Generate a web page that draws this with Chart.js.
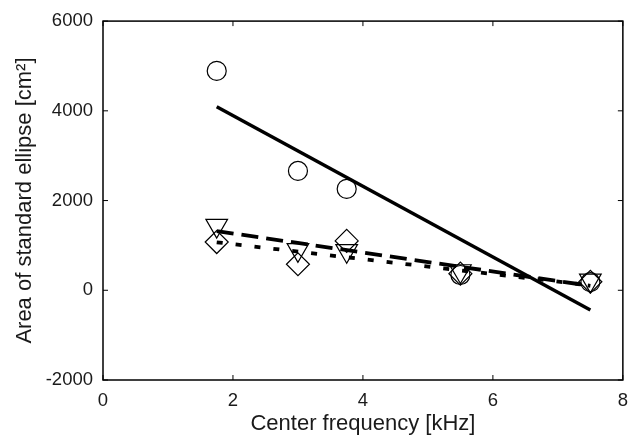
<!DOCTYPE html>
<html>
<head>
<meta charset="utf-8">
<script src="https://cdn.jsdelivr.net/npm/chart.js@4/dist/chart.umd.min.js"></script>
<style>
  html, body { margin: 0; padding: 0; background: #fff; }
  #wrap { width: 638px; height: 440px; }
</style>
</head>
<body>
<div id="wrap"><canvas id="myChart"></canvas></div>
<script>
// Center frequencies [kHz]
const freqs = [1.75, 3, 3.75, 5.5, 7.5];

// Measured areas [cm^2] for the three marker groups
const circleVals = [4890, 2660, 2260, 340, 180];
const triangleVals = [1440, 900, 880, 430, 220];
const diamondVals = [1075, 580, 1100, 370, 190];

// Regression lines (end points)
const fitX = [1.75, 7.5];
const solidFit = [4090, -440];
const dashedFit = [1320, 100];
const dottedFit = [1070, 110];

// Axis ticks
const xTicks = [0, 2, 4, 6, 8];
const yTicks = [-2000, 0, 2000, 4000, 6000];

const pts = (xs, ys) => xs.map((x, i) => ({ x: x, y: ys[i] }));

// Box frame with inward ticks on all four sides (MATLAB style)
const framePlugin = {
  id: 'frame',
  afterDatasetsDraw(chart) {
    const { ctx, chartArea: a, scales } = chart;
    ctx.save();
    ctx.strokeStyle = '#000';
    ctx.lineWidth = 1.5;
    ctx.strokeRect(a.left, a.top, a.right - a.left, a.bottom - a.top);
    ctx.lineWidth = 1;
    ctx.beginPath();
    xTicks.forEach(v => {
      const px = scales.x.getPixelForValue(v);
      ctx.moveTo(px, a.bottom); ctx.lineTo(px, a.bottom - 5);
      ctx.moveTo(px, a.top); ctx.lineTo(px, a.top + 5);
    });
    yTicks.forEach(v => {
      const py = scales.y.getPixelForValue(v);
      ctx.moveTo(a.left, py); ctx.lineTo(a.left + 5, py);
      ctx.moveTo(a.right, py); ctx.lineTo(a.right - 5, py);
    });
    ctx.stroke();
    ctx.restore();
  }
};

const ctx = document.getElementById('myChart').getContext('2d');
const font = 'Liberation Sans, Arial, sans-serif';

const myChart = new Chart(ctx, {
  type: 'scatter',
  data: {
    datasets: [
      {
        label: 'circles',
        data: pts(freqs, circleVals),
        pointStyle: 'circle',
        pointRadius: 9.5,
        borderColor: '#000',
        borderWidth: 1.2,
        backgroundColor: 'rgba(0,0,0,0)'
      },
      {
        label: 'triangles',
        data: pts(freqs, triangleVals),
        pointStyle: 'triangle',
        rotation: 180,
        pointRadius: 12.5,
        borderColor: '#000',
        borderWidth: 1.2,
        backgroundColor: 'rgba(0,0,0,0)'
      },
      {
        label: 'diamonds',
        data: pts(freqs, diamondVals),
        pointStyle: 'rectRot',
        pointRadius: 11.5,
        borderColor: '#000',
        borderWidth: 1.2,
        backgroundColor: 'rgba(0,0,0,0)'
      },
      {
        label: 'solid fit',
        data: pts(fitX, solidFit),
        showLine: true,
        pointRadius: 0,
        borderColor: '#000',
        borderWidth: 3.5
      },
      {
        label: 'dashed fit',
        data: pts(fitX, dashedFit),
        showLine: true,
        pointRadius: 0,
        borderColor: '#000',
        borderWidth: 3.8,
        borderDash: [17, 8]
      },
      {
        label: 'dotted fit',
        data: pts(fitX, dottedFit),
        showLine: true,
        pointRadius: 0,
        borderColor: '#000',
        borderWidth: 3.8,
        borderDash: [6, 13]
      }
    ]
  },
  options: {
    responsive: true,
    maintainAspectRatio: false,
    animation: false,
    layout: { padding: { top: 20, right: 12, left: 0, bottom: 0 } },
    plugins: {
      legend: { display: false },
      tooltip: { enabled: false }
    },
    scales: {
      x: {
        type: 'linear',
        min: 0,
        max: 8,
        afterBuildTicks: s => { s.ticks = xTicks.map(v => ({ value: v })); },
        afterFit: s => { s.height = 60; },
        grid: { display: false, drawTicks: false },
        border: { display: false },
        ticks: {
          padding: 10,
          color: '#1a1a1a',
          callback: v => String(v),
          font: { family: font, size: 18.5 }
        },
        title: {
          display: true,
          text: 'Center frequency [kHz]',
          color: '#1a1a1a',
          padding: { top: 0, bottom: 3 },
          font: { family: font, size: 22 }
        }
      },
      y: {
        type: 'linear',
        min: -2000,
        max: 6000,
        afterBuildTicks: s => { s.ticks = yTicks.map(v => ({ value: v })); },
        afterFit: s => { s.width = 103; },
        grid: { display: false, drawTicks: false },
        border: { display: false },
        ticks: {
          padding: 10,
          color: '#1a1a1a',
          callback: v => String(v),
          font: { family: font, size: 18.5 }
        },
        title: {
          display: true,
          text: 'Area of standard ellipse [cm²]',
          color: '#1a1a1a',
          padding: { top: 12, bottom: 0 },
          font: { family: font, size: 22 }
        }
      }
    }
  },
  plugins: [framePlugin]
});
</script>
</body>
</html>
